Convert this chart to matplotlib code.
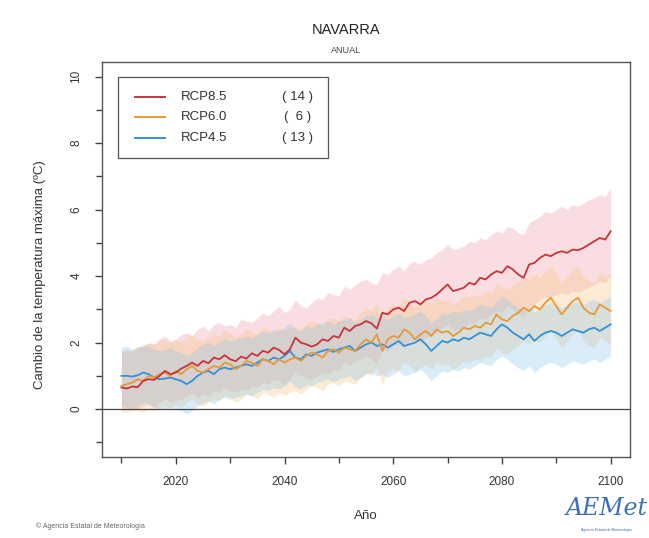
import matplotlib
matplotlib.use("Agg")
from matplotlib import pyplot as plt
from matplotlib.patches import Rectangle
import numpy as np

plt.rcParams['font.family'] = ['Liberation Sans', 'DejaVu Sans']

years = np.arange(2010, 2101)

rcp85 = [0.65, 0.62, 0.68, 0.66, 0.85, 0.9, 0.88, 1.0, 1.15, 1.05,
         1.1, 1.22, 1.3, 1.4, 1.3, 1.45, 1.38, 1.55, 1.5, 1.62,
         1.5, 1.44, 1.58, 1.52, 1.68, 1.6, 1.75, 1.7, 1.85, 1.78,
         1.65, 1.8, 2.15, 2.0, 1.95, 1.88, 1.95, 2.1, 2.05, 2.2,
         2.15, 2.45, 2.35, 2.5, 2.55, 2.65, 2.58, 2.42, 2.9, 2.85,
         3.0, 3.05, 2.95, 3.2, 3.25, 3.15, 3.3, 3.35, 3.45, 3.6,
         3.75, 3.55, 3.6, 3.65, 3.8, 3.75, 3.95, 3.9, 4.05, 4.15,
         4.1, 4.3, 4.2, 4.05, 3.95, 4.35, 4.4, 4.55, 4.65, 4.6,
         4.7, 4.75, 4.7, 4.8, 4.78, 4.85, 4.95, 5.05, 5.15, 5.1,
         5.35]
rcp85_hi = [1.75, 1.8, 1.7, 1.85, 1.9, 2.0, 1.95, 2.1, 2.2, 2.05,
            2.1, 2.25, 2.3, 2.2, 2.4, 2.5, 2.35, 2.55, 2.6, 2.5,
            2.55, 2.45, 2.7, 2.65, 2.6, 2.75, 2.9, 2.8, 2.95, 3.1,
            2.9, 3.0, 3.3, 3.1, 3.05, 3.2, 3.35, 3.3, 3.5, 3.45,
            3.4, 3.7, 3.6, 3.75, 3.85, 3.9, 3.8, 3.75, 4.1, 4.05,
            4.2, 4.3, 4.15, 4.4, 4.45, 4.35, 4.5, 4.55, 4.7, 4.8,
            4.95, 4.8, 4.85, 4.9, 5.05, 5.0, 5.15, 5.1, 5.25, 5.35,
            5.3, 5.5, 5.45, 5.3, 5.25, 5.6, 5.7, 5.8, 5.95, 5.9,
            6.0, 6.1, 6.0, 6.15, 6.1, 6.2, 6.3, 6.35, 6.45, 6.4,
            6.65]
rcp85_lo = [-0.05, 0.0, 0.05, 0.0, 0.1, 0.15, 0.05, 0.2, 0.3, 0.2,
            0.25, 0.3, 0.4, 0.5, 0.35, 0.45, 0.4, 0.55, 0.5, 0.65,
            0.55, 0.5, 0.6, 0.55, 0.7, 0.65, 0.8, 0.75, 0.9, 0.85,
            0.75, 0.9, 1.15, 1.0, 0.95, 0.9, 1.0, 1.1, 1.05, 1.2,
            1.15, 1.4, 1.3, 1.45, 1.5, 1.6, 1.5, 1.35, 1.8, 1.75,
            1.9, 1.95, 1.85, 2.05, 2.1, 2.0, 2.15, 2.2, 2.3, 2.45,
            2.55, 2.35, 2.4, 2.45, 2.6, 2.55, 2.75, 2.7, 2.85, 2.95,
            2.9, 3.1, 3.0, 2.85, 2.75, 3.1, 3.15, 3.3, 3.4, 3.35,
            3.45, 3.5, 3.45, 3.55, 3.5, 3.6, 3.65, 3.75, 3.85, 3.8,
            4.0]

rcp60 = [0.7, 0.75, 0.8, 0.9, 0.85, 1.0, 0.95, 1.05, 1.1, 1.0,
         1.15, 1.05, 1.2, 1.3, 1.15, 1.1, 1.2, 1.3, 1.25, 1.4,
         1.35, 1.2, 1.3, 1.45, 1.4, 1.3, 1.5, 1.45, 1.35, 1.5,
         1.4, 1.5, 1.55, 1.45, 1.6, 1.7, 1.65, 1.55, 1.75, 1.8,
         1.7, 1.85, 1.8, 1.75, 1.95, 2.1, 2.0, 2.25, 1.75, 2.1,
         2.2, 2.15, 2.4, 2.3, 2.1, 2.25, 2.35, 2.2, 2.4, 2.3,
         2.35, 2.2, 2.3, 2.45, 2.4, 2.5, 2.45, 2.6, 2.55, 2.85,
         2.7, 2.65, 2.8, 2.9, 3.05, 2.95, 3.1, 3.0, 3.2, 3.35,
         3.1, 2.85, 3.05, 3.25, 3.35, 3.05, 2.9, 2.85, 3.15, 3.05,
         2.95]
rcp60_hi = [1.7, 1.75, 1.8, 1.9, 1.85, 2.0, 1.95, 2.05, 2.1, 2.0,
            2.1, 2.0, 2.15, 2.25, 2.1, 2.05, 2.15, 2.25, 2.2, 2.35,
            2.3, 2.15, 2.25, 2.4, 2.35, 2.25, 2.45, 2.4, 2.3, 2.45,
            2.35, 2.45, 2.5, 2.4, 2.55, 2.65, 2.6, 2.5, 2.7, 2.75,
            2.65, 2.8, 2.75, 2.7, 2.9, 3.05, 2.95, 3.2, 2.7, 3.05,
            3.15, 3.1, 3.35, 3.25, 3.05, 3.2, 3.3, 3.15, 3.35, 3.25,
            3.3, 3.15, 3.25, 3.4, 3.35, 3.45, 3.4, 3.55, 3.5, 3.8,
            3.65, 3.6, 3.75, 3.85, 4.0, 3.9, 4.05, 3.95, 4.15, 4.3,
            4.05, 3.8, 4.0, 4.2, 4.3, 4.0, 3.85, 3.8, 4.1, 4.0,
            4.1]
rcp60_lo = [-0.1, -0.1, -0.05, -0.05, -0.1, 0.0, -0.05, 0.05, 0.1, 0.0,
            0.15, 0.05, 0.2, 0.3, 0.15, 0.1, 0.2, 0.3, 0.25, 0.4,
            0.35, 0.2, 0.3, 0.45, 0.4, 0.3, 0.5, 0.45, 0.35, 0.5,
            0.4, 0.5, 0.55, 0.45, 0.6, 0.7, 0.65, 0.55, 0.75, 0.8,
            0.7, 0.85, 0.8, 0.75, 0.95, 1.1, 1.0, 1.25, 0.75, 1.1,
            1.2, 1.15, 1.4, 1.3, 1.1, 1.25, 1.35, 1.2, 1.4, 1.3,
            1.35, 1.2, 1.3, 1.45, 1.4, 1.5, 1.45, 1.6, 1.55, 1.85,
            1.7, 1.65, 1.8, 1.9, 2.05, 1.95, 2.1, 2.0, 2.2, 2.35,
            2.1, 1.85, 2.05, 2.25, 2.35, 2.05, 1.9, 1.85, 2.15, 2.05,
            1.95]

rcp45 = [1.0, 1.0, 0.98, 1.02, 1.1, 1.05, 0.95, 0.9, 0.92, 0.95,
         0.9, 0.85, 0.75, 0.85, 1.0, 1.1, 1.15, 1.05, 1.2, 1.25,
         1.2, 1.25, 1.3, 1.35, 1.3, 1.4, 1.5, 1.45, 1.55, 1.5,
         1.6, 1.75, 1.55, 1.5, 1.65, 1.6, 1.7, 1.75, 1.8, 1.72,
         1.8, 1.85, 1.9, 1.75, 1.85, 1.95, 2.0, 1.9, 1.95, 1.85,
         1.95, 2.05, 1.9, 1.95, 2.0, 2.1, 1.95, 1.75, 1.9, 2.05,
         2.0, 2.1, 2.05, 2.15, 2.1, 2.2, 2.3, 2.25, 2.2, 2.4,
         2.55, 2.45, 2.3, 2.2, 2.1, 2.25, 2.05, 2.2, 2.3, 2.35,
         2.3, 2.2, 2.3, 2.4, 2.35, 2.3, 2.4, 2.45, 2.35, 2.45,
         2.55]
rcp45_hi = [1.85, 1.9, 1.8, 1.85, 1.95, 1.9, 1.8, 1.75, 1.8, 1.85,
            1.75, 1.7, 1.6, 1.7, 1.85, 1.95, 2.0, 1.9, 2.05, 2.1,
            2.05, 2.1, 2.15, 2.2, 2.15, 2.25, 2.35, 2.3, 2.4, 2.35,
            2.45, 2.6, 2.4, 2.35, 2.5, 2.45, 2.55, 2.6, 2.65, 2.57,
            2.65, 2.7, 2.75, 2.6, 2.7, 2.8, 2.85, 2.75, 2.8, 2.7,
            2.8, 2.9, 2.75, 2.8, 2.85, 2.95, 2.8, 2.6, 2.75, 2.9,
            2.85, 2.95, 2.9, 3.0, 2.95, 3.05, 3.15, 3.1, 3.05, 3.25,
            3.4, 3.3, 3.15, 3.05, 2.95, 3.1, 2.9, 3.05, 3.15, 3.2,
            3.15, 3.05, 3.15, 3.25, 3.2, 3.15, 3.25, 3.3, 3.2, 3.3,
            3.4]
rcp45_lo = [0.1, 0.05, 0.0, 0.1, 0.2, 0.15, 0.05, 0.0, 0.0, 0.05,
            0.0, -0.05, -0.15, -0.05, 0.1, 0.2, 0.25, 0.15, 0.3, 0.35,
            0.3, 0.35, 0.4, 0.45, 0.4, 0.5, 0.6, 0.55, 0.65, 0.6,
            0.7, 0.85, 0.65, 0.6, 0.75, 0.7, 0.8, 0.85, 0.9, 0.82,
            0.9, 0.95, 1.0, 0.85, 0.95, 1.05, 1.1, 1.0, 1.05, 0.95,
            1.05, 1.15, 1.0, 1.05, 1.1, 1.2, 1.05, 0.85, 1.0, 1.15,
            1.1, 1.2, 1.15, 1.25, 1.2, 1.3, 1.4, 1.35, 1.3, 1.5,
            1.6, 1.5, 1.35, 1.25, 1.15, 1.3, 1.1, 1.25, 1.35, 1.4,
            1.35, 1.25, 1.35, 1.45, 1.4, 1.35, 1.45, 1.5, 1.4, 1.5,
            1.6]

names = ["RCP8.5", "RCP6.0", "RCP4.5"]
counts = [14, 6, 13]
line_colors = ["#c9343c", "#e39a3a", "#3391d6"]
band_colors = ["#f29aa6", "#f6c57f", "#8fc8ec"]

series = [(rcp85, rcp85_lo, rcp85_hi), (rcp60, rcp60_lo, rcp60_hi), (rcp45, rcp45_lo, rcp45_hi)]

fig = plt.figure(figsize=(6.49, 5.38), dpi=100)
ax = fig.add_axes([0.157, 0.1506, 0.814, 0.734])

# bands first, then mean lines on top
for (mean, lo, hi), bc in zip(series, band_colors):
    ax.fill_between(years, lo, hi, color=bc, alpha=0.33, lw=0)
ax.axhline(0, color="#444444", lw=0.9)
for (mean, lo, hi), lc in zip(series[::-1], line_colors[::-1]):
    ax.plot(years, mean, color=lc, lw=1.3)

ax.set_xlim(2006.4, 2103.6)
ax.set_ylim(-1.44, 10.44)
ax.set_xticks([2020, 2040, 2060, 2080, 2100])
ax.set_xticks(np.arange(2010, 2101, 20), minor=True)
ax.set_yticks([0, 2, 4, 6, 8, 10])
ax.set_yticks([-1, 1, 3, 5, 7, 9], minor=True)
ax.tick_params(which="both", direction="out", colors="#444444", labelcolor="#333333", labelsize=8.5)
ax.tick_params(which="major", length=5, width=1, pad=9)
ax.tick_params(which="minor", length=4, width=1)
for lbl in ax.get_yticklabels():
    lbl.set_rotation(90)
    lbl.set_va("center")
for sp in ax.spines.values():
    sp.set_color("#555555")
    sp.set_linewidth(1.0)

# legend drawn by hand (R style box with member counts)
ax.add_patch(Rectangle((0.030, 0.757), 0.398, 0.205, transform=ax.transAxes,
                       fill=False, edgecolor="#555555", lw=0.9))
for i, (nm, n, lc) in enumerate(zip(names, counts, line_colors)):
    yy = 0.911 - i * 0.051
    ax.plot([0.063, 0.12], [yy, yy], transform=ax.transAxes, color=lc, lw=1.4)
    ax.text(0.150, yy, nm, transform=ax.transAxes, va="center", fontsize=9.5, color="#333333")
    ax.text(0.371, yy, "( %2d )" % n if n >= 10 else "(  %d )" % n, transform=ax.transAxes,
            va="center", ha="center", fontsize=9.5, color="#333333")

fig.text(0.533, 0.944, "NAVARRA", ha="center", va="center", fontsize=10.5, color="#222222")
fig.text(0.533, 0.907, "ANUAL", ha="center", va="center", fontsize=6.5, color="#444444")
fig.text(0.062, 0.49, "Cambio de la temperatura máxima (ºC)", rotation=90,
         ha="center", va="center", fontsize=9.5, color="#333333")
fig.text(0.564, 0.040, "Año", ha="center", va="center", fontsize=9.5, color="#333333")
fig.text(0.055, 0.022, "© Agencia Estatal de Meteorología", ha="left", va="center",
         fontsize=5, color="#666666")
fig.text(0.935, 0.055, "AEMet", ha="center", va="center", fontsize=17,
         family="DejaVu Serif", style="italic", color="#3b6fb6")
fig.text(0.935, 0.015, "Agencia Estatal de Meteorología", ha="center", va="center",
         fontsize=2.5, color="#3b6fb6")

fig.savefig("out.png", dpi=100)
